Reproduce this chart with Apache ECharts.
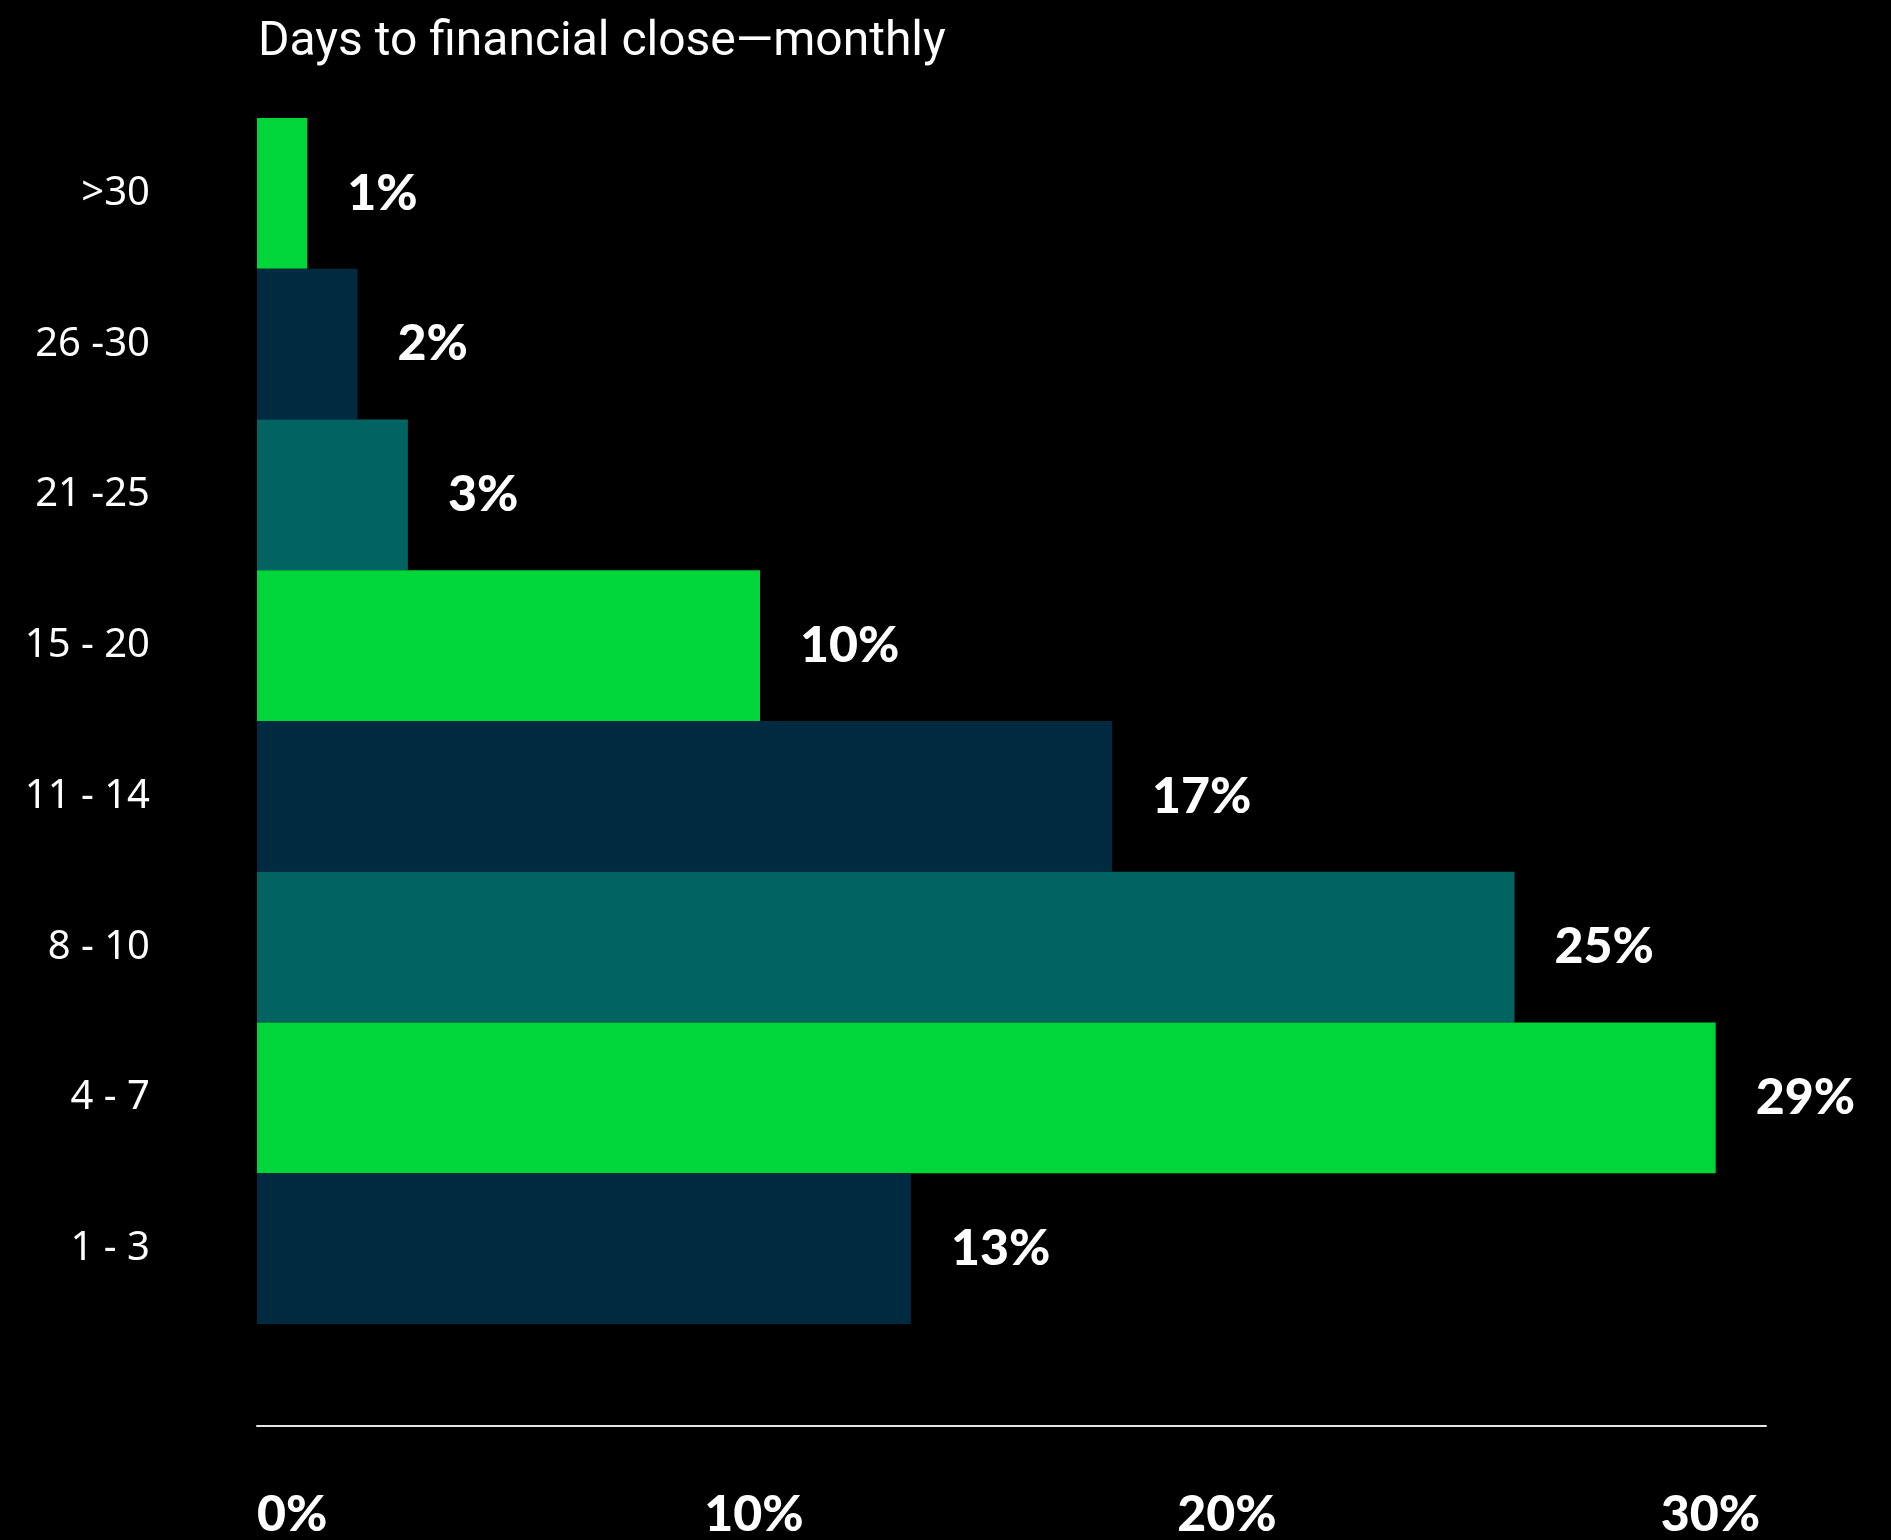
<!DOCTYPE html>
<html>
<head>
<meta charset="utf-8">
<script src="https://cdn.jsdelivr.net/npm/echarts@6/dist/echarts.min.js"></script>
<style>
html,body{margin:0;padding:0;background:#000;}
#chart{width:1891px;height:1540px;}
</style>
</head>
<body>
<div id="chart"></div>
<script>
const titleText = 'Days to financial close\u2014monthly';
const categories = ['>30', '26 -30', '21 -25', '15 - 20', '11 - 14', '8 - 10', '4 - 7', '1 - 3'];
const values = [1, 2, 3, 10, 17, 25, 29, 13];
const barColors = ['#00D639', '#002A40', '#016462', '#00D639', '#002A40', '#016462', '#00D639', '#002A40'];
const xTicks = [0, 10, 20, 30];

const labelFont = "'Lato', 'Noto Sans', sans-serif";
const tickRich = {
  t0: { color: '#fff', fontSize: 50, fontWeight: 900, fontFamily: labelFont },
  t10: { color: '#fff', fontSize: 50, fontWeight: 900, fontFamily: labelFont, padding: [0, 12, 0, 0] },
  t20: { color: '#fff', fontSize: 50, fontWeight: 900, fontFamily: labelFont, padding: [0, 72, 0, 0] },
  t30: { color: '#fff', fontSize: 50, fontWeight: 900, fontFamily: labelFont, padding: [0, 6, 0, 0] }
};

const chart = echarts.init(document.getElementById('chart'));
chart.setOption({
  backgroundColor: '#000000',
  animation: false,
  title: {
    text: titleText,
    left: 253,
    top: 14,
    textStyle: {
      color: '#ffffff',
      fontSize: 48,
      fontWeight: 'normal',
      fontFamily: "'Liberation Sans Narrow', 'Roboto', sans-serif"
    }
  },
  grid: {
    left: 257,
    right: 125,
    top: 118,
    bottom: 215,
    containLabel: false
  },
  xAxis: {
    type: 'value',
    min: xTicks[0],
    max: xTicks[xTicks.length - 1],
    interval: 10,
    offset: 102,
    axisLine: { show: true, lineStyle: { color: '#e6e6e6', width: 2 } },
    axisTick: { show: false },
    splitLine: { show: false },
    axisLabel: {
      color: '#ffffff',
      fontSize: 50,
      fontWeight: 900,
      fontFamily: labelFont,
      margin: 64,
      alignMinLabel: 'left',
      alignMaxLabel: 'right',
      formatter: function (v) { return '{t' + v + '|' + v + '%}'; },
      rich: tickRich
    }
  },
  yAxis: {
    type: 'category',
    inverse: true,
    data: categories,
    axisLine: { show: false },
    axisTick: { show: false },
    axisLabel: {
      color: '#ffffff',
      fontSize: 40,
      fontFamily: "'Noto Sans', sans-serif",
      margin: 107,
      padding: [6, 0, 0, 0]
    }
  },
  series: [{
    type: 'bar',
    barCategoryGap: 0,
    data: values.map((v, i) => ({ value: v, itemStyle: { color: barColors[i] } })),
    label: {
      show: true,
      position: 'right',
      distance: 40,
      formatter: '{c}%',
      color: '#ffffff',
      fontSize: 50,
      fontWeight: 900,
      fontFamily: labelFont
    }
  }]
});
</script>
</body>
</html>
